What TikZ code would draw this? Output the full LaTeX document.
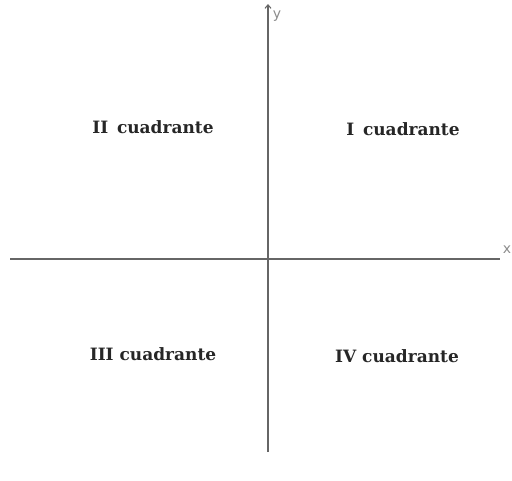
\documentclass[tikz,border=0pt]{standalone}
\usepackage{fontspec}
\setmainfont{DejaVu Serif}
\newfontfamily\axisfont{DejaVu Sans}
\usetikzlibrary{arrows.meta}
\tikzset{
  axis/.style={draw=black!60, line width=1.1pt},
  quad/.style={font=\bfseries\fontsize{17}{19}\selectfont, text=black!85, inner sep=0pt},
  axlabel/.style={font=\axisfont\fontsize{14}{16}\selectfont, text=black!45, inner sep=0pt}
}
\begin{document}
\begin{tikzpicture}[x=1pt,y=-1pt]
\useasboundingbox (0,0) rectangle (512,480);
\coordinate (xl) at (10,259);
\coordinate (xr) at (500,259);
\coordinate (yb) at (268,452);
\coordinate (yt) at (268,4);
\draw[axis] (xl) -- (xr);
\draw[axis, -{Straight Barb[length=3.5pt,width=6pt]}] (yb) -- (yt);
\node[axlabel] (ylab) at (277,16) {y};
\node[axlabel] (xlab) at (507,250) {x};
\node[quad] (q2) at (153,127) {II\, cuadrante};
\node[quad] (q1) at (403,129) {I\, cuadrante};
\node[quad] (q3) at (153,354) {III cuadrante};
\node[quad] (q4) at (397,356) {IV cuadrante};
\end{tikzpicture}
\end{document}
